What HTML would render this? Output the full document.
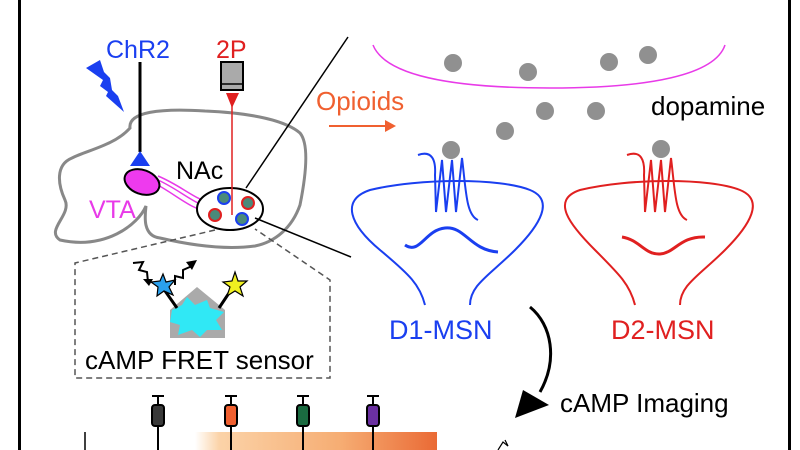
<!DOCTYPE html>
<html><head><style>html,body{margin:0;padding:0;background:#fff}svg{display:block}text{font-family:"Liberation Sans",sans-serif}</style></head>
<body>
<svg width="800" height="450" viewBox="0 0 800 450" xmlns="http://www.w3.org/2000/svg">
<defs>
<linearGradient id="og" x1="0" x2="1"><stop offset="0" stop-color="#fff"/><stop offset="0.1" stop-color="#fbd3a8"/><stop offset="0.6" stop-color="#f6ad73"/><stop offset="1" stop-color="#ea6a35"/></linearGradient>
</defs>
<rect x="18" y="0" width="3" height="450" fill="#000"/>
<rect x="788" y="0" width="3" height="450" fill="#000"/>
<!-- brain -->
<path d="M130,128 C128,112 160,108 205,111 C250,113 285,120 300,133 C310,145 305,180 300,205 C292,228 275,242 255,246 C225,250 190,245 160,238 C142,236 145,215 146,206 C138,225 105,250 60,240 C45,230 72,215 65,200 C58,185 55,165 72,158 C88,150 115,145 130,128 Z" fill="none" stroke="#888" stroke-width="3"/>
<text x="106" y="58" fill="#1a3ff0" font-size="25">ChR2</text>
<line x1="140" y1="62" x2="140" y2="152" stroke="#000" stroke-width="3"/>
<polygon points="130,166 150,166 140,151" fill="#1a3ff0"/>
<polygon points="86,68 100,60 104,72 110,78 112,90 118,96 124,112 106,96 108,92 100,86 103,80" fill="#1a3ff0"/>
<path d="M158,180 C180,190 195,205 212,208 M158,176 C182,186 195,200 214,204 M156,184 C178,196 192,210 210,212" fill="none" stroke="#e83ae8" stroke-width="1.5"/>
<ellipse cx="142" cy="182" rx="18" ry="12" transform="rotate(20 142 182)" fill="#ee3aee" stroke="#000" stroke-width="2"/>
<text x="89" y="218" fill="#e83ae8" font-size="25">VTA</text>
<text x="176" y="179" fill="#000" font-size="25">NAc</text>
<ellipse cx="230" cy="209" rx="33" ry="21" fill="#fff" stroke="#000" stroke-width="2"/>
<g stroke-width="2">
<circle cx="224" cy="198" r="6" fill="#4a8a7a" stroke="#1a3ff0"/>
<circle cx="248" cy="203" r="6" fill="#4a8a7a" stroke="#e02020"/>
<circle cx="215" cy="215" r="6" fill="#4a8a7a" stroke="#e02020"/>
<circle cx="242" cy="219" r="6" fill="#4a8a7a" stroke="#1a3ff0"/>
</g>
<text x="216" y="58" fill="#e02020" font-size="25">2P</text>
<rect x="221" y="62" width="22" height="28" fill="#aaa" stroke="#000" stroke-width="2"/>
<line x1="221" y1="84" x2="243" y2="84" stroke="#000" stroke-width="1.5"/>
<polygon points="226,93 239,93 232,108" fill="#e02020"/>
<line x1="232" y1="100" x2="232" y2="215" stroke="#e02020" stroke-width="1.5"/>
<line x1="246" y1="188" x2="348" y2="37" stroke="#000" stroke-width="1.5"/>
<line x1="255" y1="218" x2="351" y2="257" stroke="#000" stroke-width="1.5"/>
<!-- dashed box -->
<path d="M215,230 L75,263 L75,378 L330,378 L330,280 L255,229" fill="none" stroke="#555" stroke-width="1.5" stroke-dasharray="6,4"/>
<polygon points="170,310 197,287 225,310 225,338 170,338" fill="#aaa"/>
<polygon points="172,310 182,305 187,297 195,305 207,300 210,308 224,312 216,320 222,330 207,330 200,337 192,330 178,335 180,325 170,322" fill="#30e8f5"/>
<line x1="163" y1="288" x2="177" y2="308" stroke="#000" stroke-width="3"/>
<line x1="233" y1="287" x2="219" y2="308" stroke="#000" stroke-width="3"/>
<polygon points="163,274 166,282 175,280 169,287 173,295 164,291 157,296 158,287 151,282 160,281" fill="#2aa0ee" stroke="#000" stroke-width="1.2"/>
<polygon points="235,272 238,281 247,281 240,287 243,296 235,291 227,296 230,287 223,282 232,281" fill="#f0f020" stroke="#000" stroke-width="1.2"/>
<path d="M133,263 L143,262 L139,270 L147,272 L148,282" fill="none" stroke="#000" stroke-width="2"/>
<polygon points="143,279 153,279 149,286" fill="#000"/>
<path d="M175,285 L175,276 L183,278 L183,270 L192,266" fill="none" stroke="#000" stroke-width="2"/>
<polygon points="186,262 197,260 192,270" fill="#000"/>
<text x="85" y="369" fill="#000" font-size="26">cAMP FRET sensor</text>
<!-- bottom -->
<rect x="195" y="432" width="242" height="18" fill="url(#og)"/>
<line x1="85" y1="432" x2="85" y2="450" stroke="#000" stroke-width="1.5"/>
<g stroke="#000" stroke-width="2">
<g transform="translate(158,0)"><line x1="-6" y1="396" x2="6" y2="396"/><line x1="0" y1="396" x2="0" y2="406"/><rect x="-6" y="405" width="12" height="21" rx="3" fill="#3a3a3a"/><line x1="0" y1="426" x2="0" y2="450"/></g>
<g transform="translate(231,0)"><line x1="-6" y1="396" x2="6" y2="396"/><line x1="0" y1="396" x2="0" y2="406"/><rect x="-6" y="405" width="12" height="21" rx="3" fill="#f06030"/><line x1="0" y1="426" x2="0" y2="450"/></g>
<g transform="translate(303,0)"><line x1="-6" y1="396" x2="6" y2="396"/><line x1="0" y1="396" x2="0" y2="406"/><rect x="-6" y="405" width="12" height="21" rx="3" fill="#1a6a40"/><line x1="0" y1="426" x2="0" y2="450"/></g>
<g transform="translate(373,0)"><line x1="-6" y1="396" x2="6" y2="396"/><line x1="0" y1="396" x2="0" y2="406"/><rect x="-6" y="405" width="12" height="21" rx="3" fill="#6a30a0"/><line x1="0" y1="426" x2="0" y2="450"/></g>
</g>
<!-- right side -->
<path d="M373,45 C385,75 450,88 550,88 C650,88 715,75 725,45" fill="none" stroke="#e83ae8" stroke-width="1.5"/>
<g fill="#909090">
<circle cx="453" cy="63" r="9"/><circle cx="528" cy="72" r="9"/><circle cx="609" cy="62" r="9"/><circle cx="648" cy="55" r="9"/>
<circle cx="545" cy="111" r="9"/><circle cx="596" cy="111" r="9"/><circle cx="505" cy="131" r="9"/><circle cx="451" cy="150" r="9"/><circle cx="661" cy="149" r="9"/>
</g>
<text x="651" y="115" fill="#000" font-size="26">dopamine</text>
<text x="316" y="110" fill="#f06030" font-size="26">Opioids</text>
<line x1="329" y1="126" x2="388" y2="126" stroke="#f06030" stroke-width="2"/>
<polygon points="385,120 396,126 385,132" fill="#f06030"/>
<!-- D1 -->
<g fill="none" stroke="#1a3ff0" stroke-width="2">
<path d="M425,305 C420,285 410,275 380,250 C350,225 340,200 370,190 C420,178 500,178 530,190 C555,200 540,225 515,250 C490,275 470,285 470,305"/>
<path d="M418,155 C432,150 436,160 435,175 L436,212 L442,160 L446,212 L452,160 L456,212 L462,158 C466,190 466,215 478,220"/>
<path d="M405,245 C420,255 425,230 445,228 C465,226 470,250 498,252" stroke-width="3"/>
</g>
<text x="389" y="339" fill="#1a3ff0" font-size="27">D1-MSN</text>
<!-- D2 -->
<g fill="none" stroke="#e02020" stroke-width="2">
<path d="M635,305 C630,285 620,275 595,250 C570,225 550,200 580,190 C630,178 710,178 740,190 C765,200 750,225 725,250 C700,275 680,285 680,305"/>
<path d="M627,155 C641,150 645,160 644,175 L645,212 L651,160 L655,212 L661,160 L665,212 L671,158 C675,190 675,215 687,220"/>
<path d="M622,237 C640,240 645,255 660,254 C675,253 680,236 705,237" stroke-width="3"/>
</g>
<text x="611" y="339" fill="#e02020" font-size="27">D2-MSN</text>
<!-- arrow -->
<path d="M530,307 C552,325 558,360 540,392" fill="none" stroke="#000" stroke-width="3"/>
<polygon points="523,390 549,405 515,418" fill="#000"/>
<text x="560" y="412" fill="#000" font-size="26">cAMP Imaging</text>
<path d="M498,450 L503,442 L508,446 L505,440" fill="none" stroke="#000" stroke-width="1.2"/>
</svg>
</body></html>
